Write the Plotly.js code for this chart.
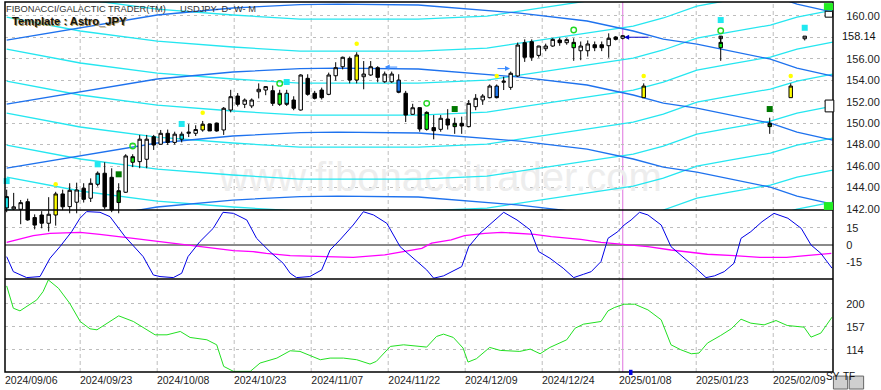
<!DOCTYPE html>
<html><head><meta charset="utf-8">
<script src="https://cdn.plot.ly/plotly-3.0.1.min.js"></script>
<style>html,body{margin:0;padding:0;background:#fff;}#chart{width:881px;height:390px;}</style>
</head><body><div id="chart"></div>
<script>
// ---------------- DATA ----------------
const dateLabels = ['2024/09/06','2024/09/23','2024/10/08','2024/10/23','2024/11/07','2024/11/22','2024/12/09','2024/12/24','2025/01/08','2025/01/23','2025/02/09'];
const dateLabelBar = [0,11,22,33,44,55,66,77,88,99,110];
const todayBar = 88;
const lastPrice = 158.14;
const priceTicks = [142,144,146,148,150,152,154,156,158,160];
const oscTicks = [15,0,-15];
const lowerTicks = [200,157,114];

// daily candles (bar 0 = 2024/09/06)
const open  = [142.1,142.0,141.97,142.68,141.2,141.44,140.67,141.44,143.4,142.22,
  142.63,143.93,143.0,144.3,145.33,144.95,142.6,143.56,146.35,146.41,
  146.63,148.73,148.03,149.05,148.2,148.5,149.05,149.05,149.36,149.92,
  150.0,149.36,151.22,152.52,151.75,151.6,152.92,153.08,153.02,151.75,
  152.78,152.15,151.22,154.17,152.78,153.08,152.68,154.41,155.25,156.03,
  154.01,154.32,154.48,155.16,153.85,153.85,154.01,152.78,150.82,151.44,
  149.42,149.58,149.42,150.38,149.67,149.98,149.67,151.53,152.15,152.37,
  153.45,153.8,153.33,154.39,157.49,157.58,156.31,156.93,157.18,157.74,
  157.49,157.02,156.74,156.74,157.3,157.3,157.21,158.02,157.9];
const high  = [143.8,143.5,142.84,142.96,141.5,141.8,143.1,143.6,143.8,144.4,
  144.45,144.4,144.85,145.5,146.35,145.79,144.4,147.1,147.1,148.9,
  148.9,148.9,149.36,149.4,149.2,149.2,149.9,149.8,150.2,149.95,
  150.05,151.5,153.1,152.8,152.3,152.3,153.7,153.45,153.5,153.1,
  153.1,152.5,154.55,154.55,153.0,153.3,154.7,155.67,156.2,156.2,
  156.6,155.78,155.78,155.3,154.8,154.8,154.55,153.0,151.8,151.45,
  151.1,150.75,150.75,151.3,150.5,150.6,152.15,152.7,152.7,153.6,
  153.6,154.32,154.8,157.5,157.8,157.8,157.2,157.4,157.9,157.95,
  157.9,157.9,157.6,157.7,157.6,157.6,158.36,158.1,158.2];
const low   = [141.7,141.9,140.58,140.9,140.1,140.2,139.9,140.45,141.9,141.6,
  141.6,142.6,142.65,144.1,142.0,141.7,141.6,143.5,145.9,145.8,
  145.8,147.5,148.0,147.97,148.0,148.2,148.7,148.8,149.2,149.27,
  149.2,148.9,151.0,151.55,151.4,151.4,152.3,152.6,151.6,151.6,
  151.6,151.2,151.16,152.55,152.2,152.2,152.6,153.96,155.0,153.7,
  153.7,153.15,154.4,153.8,153.75,153.75,152.78,150.1,150.8,149.2,
  149.3,148.49,149.2,149.4,149.0,149.0,149.6,151.2,151.7,152.3,
  152.3,153.08,153.1,154.3,155.7,155.8,156.1,156.7,157.1,157.2,
  157.3,155.8,155.86,156.2,156.7,156.7,156.09,157.7,157.8];
const close = [143.15,142.2,142.59,140.98,140.5,140.67,141.51,143.4,142.2,143.74,
  143.77,142.9,144.39,145.33,142.2,141.91,143.7,146.94,146.87,148.5,
  148.5,147.96,149.05,148.2,148.97,148.97,149.15,149.4,149.89,149.27,
  149.27,151.38,152.46,151.75,152.15,152.15,153.15,153.4,151.84,152.78,
  151.75,151.38,154.48,152.68,152.31,152.37,154.48,155.16,156.13,154.01,
  156.34,154.57,155.25,154.26,154.57,154.57,152.87,150.75,151.43,149.45,
  151.0,149.29,150.45,149.82,149.98,149.73,151.84,152.31,152.52,153.45,
  152.37,153.9,154.64,157.27,156.13,156.13,157.18,157.18,157.8,157.49,
  157.77,157.52,157.18,157.37,157.02,157.02,157.9,157.8,158.14];
// n = plain, c = cyan, y = yellow, g = green, d = dark green, u = blue
const barColor = ['c','n','n','n','n','n','n','y','n','n',
  'n','n','n','c','n','n','d','n','g','n',
  'n','n','n','n','n','c','n','n','y','n',
  'n','n','n','n','n','n','n','n','n','g',
  'c','n','n','n','n','n','n','n','n','n',
  'y','n','n','n','n','n','u','n','n','n',
  'g','n','n','n','d','n','n','n','n','n',
  'u','n','n','n','n','n','n','n','n','n',
  'n','g','n','n','n','n','n','n','n'];

// projected candles to the right of today
const futBar   = [91,102,102,109,112,114];
const futOpen  = [152.37,157.02,157.86,149.67,152.37,157.86];
const futHigh  = [153.7,158.1,158.1,150.5,153.7,158.1];
const futLow   = [152.37,155.8,157.5,149.0,152.37,157.7];
const futClose = [153.45,157.52,158.1,149.98,153.45,158.1];
const futColor = ['y','g','n','d','y','n'];

// signal markers
const cyanSqBar = [0,13,25,40,102,114];
const cyanSqVal = [144.6,146.16,149.92,153.83,159.6,158.88];
const yellowDotBar = [7,28,50,70,91,112];
const yellowDotVal = [144.3,150.97,157.4,154.39,154.39,154.39];
const greenRingBar = [18,39,60,81,102];
const greenRingVal = [147.87,153.7,151.84,158.67,158.6];
const darkSqBar = [16,64,109];
const darkSqVal = [145.23,151.31,151.31];

// galactic bands: base curve + parallel offsets
const blueBandBar = [0,10.5,21.5,32.3,41.9,47.3,58.8,73.3,82.9,89.5,93.8,98.6,103.3,109.1,112.9,118];
const blueBandBase = [151.78,152.9,154.11,154.76,155.08,155.13,155.04,154.29,153.55,152.62,151.87,151.4,150.75,150.0,149.17,148.42];
const blueBandOffsets = [-11.92,-5.96,0,5.96,11.92];
const cyanBandBar = [0,10.5,21.5,32.3,41.9,58.8,68.6,78,89.5,93.8,98.6,103.3,109.1,112.9,118];
const cyanBandBase = [156.9,155.6,154.66,154.11,153.73,153.73,154.01,154.94,156.06,156.81,157.92,158.48,159.13,159.88,160.53];
const cyanBandOffsets = [-17.88,-14.9,-11.92,-8.94,-5.96,-2.98,0,2.98,5.96];

// cycle oscillator (middle panel)
const oscBar = [0,0.95,2.85,4.76,6.19,7.61,9.28,10.47,11.42,13.33,14.76,16.9,19.5,20.95,21.9,23.8,25,25.9,27.6,29.5,30.9,32.4,34.3,35.7,37.6,39.5,40.5,41.4,43.3,45,46.2,47.6,49.5,50.95,52.4,54.3,56.2,58.1,60,61,62.4,65,66,67.6,69.5,71,72.9,74.8,76,77.6,79.5,81,82.4,83.5,84.9,85.9,87.3,88.2,89.2,90.4,91.6,93.5,94.9,96.3,98.2,99.9,101.1,102.5,103.9,104.9,106.3,107.9,109.6,111.6,113.5,114.9,116.3,117.9];
const oscVal = [-10.2,-23.3,-28.5,-27.6,-11.6,-1.5,11.6,23.3,29.1,28.5,24.7,7.3,-10.2,-26.2,-27.6,-28.5,-24.7,-10.2,2.9,14.5,28.5,27.6,21.8,5.8,-5.8,-16,-24.7,-28.5,-27.6,-21.8,-4.4,4.4,17.4,29,26.2,18.9,-1.5,-11.6,-21.8,-29,-27,-18.9,-1.5,10.2,20.3,28.5,21.8,13.1,-5.8,-11.6,-20.3,-28.5,-25.6,-23.3,-14.5,5.8,11.6,17.4,21.8,28.5,26.2,17.4,-1.5,-8.7,-18.9,-28.5,-27,-23.3,-16,5.8,11.6,20.3,27.6,23.3,14.5,0,-7.3,-20.3];
const trendBar = [0,2.4,3.8,6.2,8.6,10.5,13.3,15.7,18.1,21,22.9,25.7,27.6,30,32.4,35.2,37.1,40.5,45,49.5,54,56.5,59.3,60.7,63.5,65.4,68.3,70.7,73,75.4,77.8,80.2,82,84.9,88.2,91.6,94.9,98.2,100.1,103.9,107.6,111.4,114.7,117.8];
const trendVal = [2.3,5.8,8.1,10.2,11.0,11.0,9.3,7.8,5.8,3.5,2.0,0,-1.5,-3.5,-4.9,-5.8,-7.3,-9.3,-10.2,-10.8,-8.7,-5.8,-2.9,1.5,4.4,8.1,10.2,11.0,10.2,9.3,7.3,5.8,4.9,2.3,0.6,-1.5,-4.4,-6.4,-8.1,-9.3,-10.8,-10.8,-8.7,-7.3];

// lower panel line
const lowerBar = [0,0.95,1.9,2.85,4.3,5.2,5.95,7.4,9.0,10.5,11.9,12.9,14.3,16,18.1,20,21.2,22.9,24.8,26.2,28.6,30,31,32.4,34.8,36.2,38.6,40.5,41.9,44.8,46.2,48.1,50,51.9,52.8,54.8,56.7,60,61.4,62.4,63.8,65.2,65.9,67.1,69,70.5,73.3,74.8,76.2,77.6,80,81.2,82.4,84.9,85.9,86.8,88.2,89.7,91.6,93.5,94.9,96.3,97.8,98.9,100.1,102,103.5,104.9,106.3,108.2,109.9,111.5,113.9,114.9,116.3,117.9];
const lowerVal = [233.7,191.9,186.9,195.0,207.5,223.1,244.9,229.3,201.2,167.0,153.3,151.4,163.9,177.6,167.0,151.4,142.0,142.0,148.3,137.1,132.7,123.3,82.8,73.5,73.5,89.1,98.4,112.1,110.9,95.3,98.4,98.4,95.3,87.2,92.2,120.2,123.3,119.0,138.9,143.3,137.1,117.1,90.9,97.2,118.4,112.8,110.9,115.2,106.5,118.4,132.7,154.5,162.0,167.0,186.9,193.1,199.4,199.4,188.8,170.1,123.3,114.0,106.5,107.8,126.5,140.8,153.3,171.3,163.9,160.7,168.8,159.5,156.4,137.7,145.2,175.1];

// arrows drawn on the price panel
const arrowBar = [88.2,54.0,71.9];
const arrowVal = [158.0,155.22,155.08];
const arrowDir = [1,1,-1];      // 1 = points left, -1 = points right
const arrowColor = ['#0000c8','#3b8bff','#3b8bff'];

// ---------------- STYLE / GEOMETRY ----------------
const FONT = 'Liberation Sans, Arial, Helvetica, sans-serif';
const xRange = [-0.24, 118.04];
const dom = {top:[0.4378,1], mid:[0.2514,0.4378], low:[0,0.2514], candle:[0.2514,1]};
const COL = {c:'#20e8f0', y:'#ffff00', g:'#10ee10', d:'#007800', u:'#1e78f0'};
const BLUE = '#1e72ee', CYAN = '#25e6f0';

const traces = [];
// watermark (under everything)
traces.push({type:'scatter', mode:'text', x:[62], y:[144.6], xaxis:'x', yaxis:'y',
  text:['www.fibonaccitrader.com'], textposition:'middle center', cliponaxis:false,
  textfont:{family:FONT, size:40, color:'#ededed'}, hoverinfo:'skip'});
// bands
cyanBandOffsets.forEach(o => traces.push({type:'scatter', mode:'lines', x:cyanBandBar,
  y:cyanBandBase.map(v => v + o), xaxis:'x', yaxis:'y', line:{color:CYAN, width:1.3}, hoverinfo:'skip'}));
blueBandOffsets.forEach(o => traces.push({type:'scatter', mode:'lines', x:blueBandBar,
  y:blueBandBase.map(v => v + o), xaxis:'x', yaxis:'y', line:{color:BLUE, width:1.3}, hoverinfo:'skip'}));
// oscillator
traces.push({type:'scatter', mode:'lines', x:trendBar, y:trendVal, xaxis:'x', yaxis:'y2',
  line:{color:'#ff00ff', width:1.3}});
traces.push({type:'scatter', mode:'lines', x:oscBar, y:oscVal, xaxis:'x', yaxis:'y2',
  line:{color:'#0000e6', width:1}});
// candles, grouped by colour
const groups = {};
function put(x, o, h, l, c, code) {
  const g = groups[code] || (groups[code] = {x:[], o:[], h:[], l:[], c:[]});
  g.x.push(x); g.o.push(o); g.h.push(h); g.l.push(l); g.c.push(c);
}
open.forEach((o, i) => put(i, o, high[i], low[i], close[i], barColor[i]));
futBar.forEach((b, i) => put(b, futOpen[i], futHigh[i], futLow[i], futClose[i], futColor[i]));
['n','c','y','g','d','u'].forEach(code => {
  const g = groups[code]; if (!g) return;
  const up = code === 'n' ? '#ffffff' : COL[code];
  const dn = code === 'n' ? '#000000' : COL[code];
  traces.push({type:'candlestick', x:g.x, open:g.o, high:g.h, low:g.l, close:g.c,
    xaxis:'x', yaxis:'y3', whiskerwidth:0,
    increasing:{fillcolor:up, line:{color:'#000', width:1}},
    decreasing:{fillcolor:dn, line:{color:'#000', width:1}}, hoverinfo:'skip'});
});
// lower panel
traces.push({type:'scatter', mode:'lines', x:lowerBar, y:lowerVal, xaxis:'x', yaxis:'y4',
  line:{color:'#22e022', width:1}});
// markers
traces.push({type:'scatter', mode:'markers', x:cyanSqBar, y:cyanSqVal, xaxis:'x', yaxis:'y3', cliponaxis:false,
  marker:{symbol:'square', size:6, color:'#20e8f0'}});
traces.push({type:'scatter', mode:'markers', x:yellowDotBar, y:yellowDotVal, xaxis:'x', yaxis:'y3',
  marker:{symbol:'circle', size:4.5, color:'#ffff00'}});
traces.push({type:'scatter', mode:'markers', x:greenRingBar, y:greenRingVal, xaxis:'x', yaxis:'y3',
  marker:{symbol:'circle-open', size:5.5, color:'#22d822', line:{width:1.4}}});
traces.push({type:'scatter', mode:'markers', x:darkSqBar, y:darkSqVal, xaxis:'x', yaxis:'y3',
  marker:{symbol:'square', size:6, color:'#007800'}});

// shapes
const shapes = [];
dateLabelBar.forEach(b => {
  const xv = b - 0.5;
  if (xv > xRange[0]) shapes.push({type:'line', xref:'x', yref:'paper', x0:xv, x1:xv, y0:0, y1:1,
    layer:'below', line:{color:'#bdbdbd', width:1, dash:'4px,3px'}});
});
shapes.push({type:'line', xref:'x', yref:'paper', x0:todayBar, x1:todayBar, y0:0, y1:1,
  layer:'below', line:{color:'#e58ae5', width:1.2}});
// panel separators + border
[dom.top[0], dom.mid[0]].forEach(yv => shapes.push({type:'line', xref:'paper', yref:'paper',
  x0:0, x1:1, y0:yv, y1:yv, line:{color:'#000', width:1.5}}));
shapes.push({type:'rect', xref:'paper', yref:'paper', x0:0, x1:1, y0:0, y1:1, line:{color:'#000', width:1.5}});
// today marker on time axis
shapes.push({type:'rect', xref:'x', yref:'paper', x0:todayBar+0.9, x1:todayBar+1.4, y0:-0.008, y1:0.006,
  fillcolor:'#0000e0', line:{width:0}});
// right-edge panel widgets
shapes.push({type:'rect', xref:'paper', yref:'paper', x0:0.989, x1:1.0, y0:0.978, y1:0.997, fillcolor:'#22ee22', line:{width:0}});
shapes.push({type:'rect', xref:'paper', yref:'paper', x0:0.989, x1:1.0, y0:0.438, y1:0.459, fillcolor:'#22ee22', line:{width:0}});
shapes.push({type:'rect', xref:'paper', yref:'paper', x0:0.9905, x1:0.9995, y0:0.959, y1:0.975, fillcolor:'#fff', line:{color:'#000', width:1}});
shapes.push({type:'rect', xref:'paper', yref:'paper', x0:0.9905, x1:1.001, y0:0.703, y1:0.735, fillcolor:'#fff', line:{color:'#000', width:1}});
// SY / TF buttons
shapes.push({type:'rect', xref:'paper', yref:'paper', x0:1.0005, x1:1.0177, y0:-0.046, y1:-0.011, fillcolor:'#cfcfcf', line:{color:'#666', width:1}});
shapes.push({type:'rect', xref:'paper', yref:'paper', x0:1.0196, x1:1.037, y0:-0.046, y1:-0.011, fillcolor:'#cfcfcf', line:{color:'#666', width:1}});

// annotations
const annotations = [
  {xref:'paper', yref:'paper', x:0.0005, y:0.981, xanchor:'left', yanchor:'middle', showarrow:false, borderpad:0,
    text:'FIBONACCI/GALACTIC TRADER(TM)', font:{family:FONT, size:9.3, color:'#333'}},
  {xref:'paper', yref:'paper', x:0.2105, y:0.981, xanchor:'left', yanchor:'middle', showarrow:false, borderpad:0,
    text:'USDJPY- D- W- M', font:{family:FONT, size:9.3, color:'#333'}},
  {xref:'paper', yref:'paper', x:0.0075, y:0.950, xanchor:'left', yanchor:'middle', showarrow:false, borderpad:0,
    text:'<b>Template : Astro_JPY</b>', font:{family:FONT, size:11.2, color:'#111', shadow:'1px 1px 0px #a88a3c'}},
  {xref:'paper', yref:'y', x:1, y:lastPrice, xanchor:'left', yanchor:'middle', xshift:7, showarrow:false,
    text:lastPrice.toFixed(2), font:{family:FONT, size:11, color:'#111'}},
  {xref:'paper', yref:'paper', x:1.0091, y:-0.0285, showarrow:false, borderpad:0, text:'SY', font:{family:FONT, size:10, color:'#111'}},
  {xref:'paper', yref:'paper', x:1.0283, y:-0.0285, showarrow:false, borderpad:0, text:'TF', font:{family:FONT, size:10, color:'#111'}}
];
arrowBar.forEach((b, i) => annotations.push({xref:'x', yref:'y', x:b, y:arrowVal[i], ax:arrowDir[i]*(i === 0 ? 26 : 14), ay:0,
  showarrow:true, arrowhead:2, arrowsize:1, arrowwidth:1, arrowcolor:arrowColor[i], text:''}));

const axCommon = {showline:false, zeroline:false, fixedrange:true, anchor:'x', side:'right',
  tickfont:{family:FONT, size:11, color:'#222'}, ticks:'outside', ticklen:10, tickcolor:'rgba(0,0,0,0)',
  gridcolor:'#bdbdbd', gridwidth:1, griddash:'3px,4px', showgrid:true, tickmode:'array'};

const layout = {
  width:881, height:390, margin:{l:5, r:48, t:2, b:18},
  paper_bgcolor:'#ffffff', plot_bgcolor:'rgba(0,0,0,0)', showlegend:false,
  font:{family:FONT, size:11, color:'#222'},
  xaxis:{range:xRange, anchor:'y4', tickmode:'array',
    tickvals:dateLabelBar.map(b => Math.max(b - 0.5, xRange[0] + 0.04)), ticktext:dateLabels,
    ticklabelshift:26, showgrid:false, zeroline:false, showline:false, ticks:'',
    tickfont:{family:FONT, size:10.5, color:'#222'}, rangeslider:{visible:false}, fixedrange:true},
  // the 158 grid line stays, its label is replaced by the last price label
  yaxis:Object.assign({}, axCommon, {domain:dom.top, range:[141.91,161.28],
    tickvals:priceTicks, ticktext:priceTicks.map(v => Math.abs(v - lastPrice) < 1 ? '' : v.toFixed(2))}),
  yaxis2:Object.assign({}, axCommon, {domain:dom.mid, range:[-29.7,30.5],
    tickvals:oscTicks, ticktext:oscTicks.map(String), zeroline:true, zerolinecolor:'#8a8a8a', zerolinewidth:1.5}),
  yaxis3:{domain:dom.candle, range:[135.48,161.28], anchor:'x', visible:false, fixedrange:true},
  yaxis4:Object.assign({}, axCommon, {domain:dom.low, range:[72.3,246.7],
    tickvals:lowerTicks, ticktext:lowerTicks.map(String)}),
  shapes:shapes, annotations:annotations
};

Plotly.newPlot('chart', traces, layout, {staticPlot:true, displayModeBar:false});
</script>
</body></html>
